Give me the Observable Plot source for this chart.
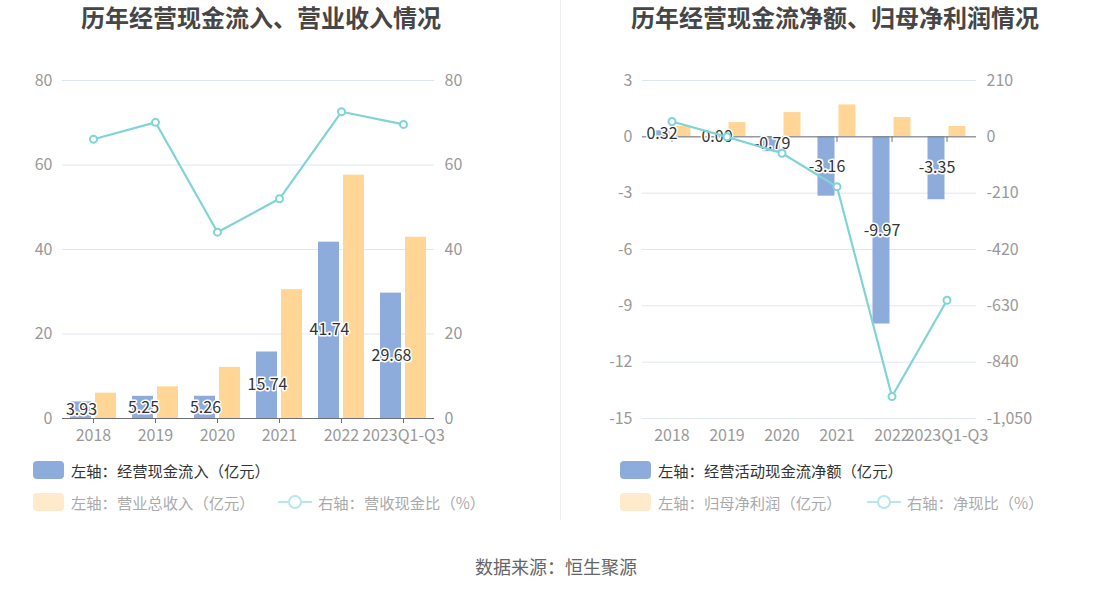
<!DOCTYPE html>
<html><head><meta charset="utf-8">
<script src="https://cdn.jsdelivr.net/npm/d3@7"></script>
<script src="https://cdn.jsdelivr.net/npm/@observablehq/plot@0.6"></script>
<style>
body{margin:0;background:#fff;font-family:"Noto Sans CJK SC",sans-serif;}
#root{position:relative;width:1113px;height:592px;overflow:hidden;background:#fff;}
.abs{position:absolute;}
.title{font-size:24px;font-weight:bold;color:#464646;white-space:nowrap;transform:translate(-50%,-50%);line-height:1;}
.leg{position:absolute;display:flex;align-items:center;font-size:15.3px;white-space:nowrap;transform:translateY(-50%);}
.sw{width:31px;height:18px;border-radius:4px;margin-right:7px;}
.sep{position:absolute;left:560px;top:0;width:1px;height:520px;background:#eeeeee;}
.cap{position:absolute;left:556px;top:566px;transform:translate(-50%,-50%);font-size:18px;color:#666;white-space:nowrap;}
</style></head><body><div id="root"></div>
<script>
// ---------- data ----------
const categories = ["2018","2019","2020","2021","2022","2023Q1-Q3"];
// chart 1
const cashInflow = [3.93,5.25,5.26,15.74,41.74,29.68];        // 经营现金流入（亿元）
const revenue = [6.0,7.5,12.1,30.5,57.6,42.9];                // 营业总收入（亿元）
const revenueCashRatio = [66.1,70.1,44.1,52.0,72.6,69.6];     // 营收现金比（%）
const leftTicks1 = [0,20,40,60,80];
const rightTicks1 = [0,20,40,60,80];
// chart 2
const netOperatingCash = [0.32,0.00,-0.79,-3.16,-9.97,-3.35]; // 经营活动现金流净额（亿元）
const netProfit = [0.56,0.76,1.29,1.70,1.03,0.55];            // 归母净利润（亿元）
const netCashRatio = [57,0,-61,-186,-968,-609];               // 净现比（%）
const leftTicks2 = [-15,-12,-9,-6,-3,0,3];
const rightTicks2 = [-1050,-840,-630,-420,-210,0,210];

const BLUE="#8EACDB", YELLOW="#FFD696", TEAL="#80D4D6", AXIS="#6E7079", GRID="#E0E6F1";
const root = document.getElementById("root");

function fmtNum(v){ return Math.round(v).toLocaleString("en-US"); }

function chart(opts){
  const {left, width, marginLeft, marginRight, lTicks, rTicks, bar1, bar2, line, inset, zeroTicks} = opts;
  const lo = lTicks[0], hi = lTicks[lTicks.length-1];
  const rlo = rTicks[0], rhi = rTicks[rTicks.length-1];
  const toL = v => lo + (v - rlo) / (rhi - rlo) * (hi - lo);
  const toR = d => rlo + (d - lo) / (hi - lo) * (rhi - rlo);
  const rows = categories.map((c,i)=>({cat:c, a:bar1[i], b:bar2[i], r:line[i]}));
  const marks = [
    Plot.gridY(lTicks, {stroke:GRID, strokeOpacity:1, strokeWidth:1}),
    Plot.barY(rows, {x:"cat", y:"a", fill:BLUE, insetLeft:inset[0], insetRight:inset[1]}),
    Plot.barY(rows, {x:"cat", y:"b", fill:YELLOW, insetLeft:inset[1]+inset[2], insetRight:inset[0]-inset[2]}),
    Plot.ruleY([0], {stroke:AXIS, strokeWidth:1}),
    Plot.axisY(lTicks, {anchor:"left", tickSize:0, tickPadding:10, tickFormat:d=>String(d), fill:"#999", fontSize:16}),
    Plot.axisY(lTicks, {anchor:"right", tickSize:0, tickPadding:10, tickFormat:d=>fmtNum(toR(d)), fill:"#999", fontSize:16}),
  ];
  if (zeroTicks) {
    marks.push(Plot.axisX({tickSize:0, tickPadding:11, fill:"#999", fontSize:16}));
    marks.push(Plot.ruleX(categories, {x:d=>d, y1:0, y2:-(hi-lo)*5.5/338, stroke:AXIS}));
  } else {
    marks.push(Plot.axisX({tickSize:5, tickPadding:6, stroke:AXIS, fill:"#999", fontSize:16}));
  }
  marks.push(
    Plot.text(rows, {x:"cat", y:d=>d.a/2, text:d=>d.a.toFixed(2), dx:opts.labelDx, fill:"#333", stroke:"white", strokeWidth:3, paintOrder:"stroke", fontSize:16}),
    Plot.line(rows, {x:"cat", y:d=>toL(d.r), stroke:TEAL, strokeWidth:2.2}),
    Plot.dot(rows, {x:"cat", y:d=>toL(d.r), r:3.5, fill:"white", stroke:TEAL, strokeWidth:2})
  );
  const p = Plot.plot({
    width, height:400, marginLeft, marginRight, marginTop:20, marginBottom:42,
    style:{fontFamily:'"Noto Sans CJK SC", sans-serif', fontSize:"16px", background:"transparent", overflow:"visible"},
    x:{type:"band", domain:categories, padding:0, label:null, axis:null},
    y:{domain:[lo,hi], label:null, axis:null},
    marks
  });
  p.style.position="absolute"; p.style.left=left+"px"; p.style.top="60px";
  root.appendChild(p);
}

chart({left:0, width:556, marginLeft:62, marginRight:122, lTicks:leftTicks1, rTicks:rightTicks1,
  bar1:cashInflow, bar2:revenue, line:revenueCashRatio, inset:[8,33,0], labelDx:-12});
chart({left:560, width:553, marginLeft:82, marginRight:137, lTicks:leftTicks2, rTicks:rightTicks2,
  bar1:netOperatingCash, bar2:netProfit, line:netCashRatio, inset:[8.5,29.5,0], labelDx:-10, zeroTicks:true});

// ---------- titles, legends, caption ----------
function add(html){ root.insertAdjacentHTML("beforeend", html); }
add(`<div class="abs title" style="left:261px;top:17px">历年经营现金流入、营业收入情况</div>`);
add(`<div class="abs title" style="left:835px;top:17px">历年经营现金流净额、归母净利润情况</div>`);
add(`<div class="sep"></div>`);
const lineIcon = `<svg width="34" height="16" style="margin-right:6px"><line x1="0" y1="8" x2="34" y2="8" stroke="#B6E7E9" stroke-width="2"/><circle cx="17" cy="8" r="6" fill="white" stroke="#B6E7E9" stroke-width="2"/></svg>`;
function legend(x, name1, name2, name3, x3){
  add(`<div class="leg" style="left:${x}px;top:470px;color:#333"><div class="sw" style="background:${BLUE}"></div>${name1}</div>`);
  add(`<div class="leg" style="left:${x}px;top:502px;color:#aaa"><div class="sw" style="background:#FFEBCB"></div>${name2}</div>`);
  add(`<div class="leg" style="left:${x3}px;top:502px;color:#aaa">${lineIcon}${name3}</div>`);
}
legend(33, "左轴：经营现金流入（亿元）", "左轴：营业总收入（亿元）", "右轴：营收现金比（%）", 278);
legend(620, "左轴：经营活动现金流净额（亿元）", "左轴：归母净利润（亿元）", "右轴：净现比（%）", 867);
add(`<div class="cap">数据来源：恒生聚源</div>`);
</script></body></html>
